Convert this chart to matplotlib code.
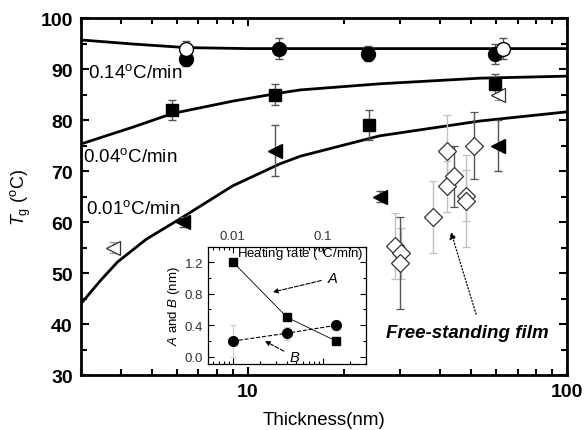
import matplotlib
matplotlib.use("Agg")
from matplotlib import pyplot as plt

plt.rcParams['font.family'] = ['Liberation Sans', 'DejaVu Sans']
plt.rcParams['mathtext.fontset'] = 'custom'
plt.rcParams['mathtext.rm'] = 'Liberation Sans'
plt.rcParams['mathtext.it'] = 'Liberation Sans:italic'
plt.rcParams['mathtext.bf'] = 'Liberation Sans:bold'

# ---- main panel data (thickness nm, Tg degC, error) ----
circ_h = [6.4, 12.5, 23.8, 59.4]
circ_tg = [92, 94, 93, 93]
circ_err = [1.5, 2, 1.5, 2]

open_circ_h = [6.4, 63]
open_circ_tg = [94, 94]
open_circ_err = [1.5, 2]

sq_h = [5.8, 12.2, 23.9, 59.4]
sq_tg = [82, 85, 79, 87]
sq_err = [2, 2, 3, 2]

tri_h = [6.25, 12.2, 25.9, 60.8]
tri_tg = [60, 74, 65, 75]
tri_err = [1, 5, 1, 5]

open_tri_h = [3.78, 60.8]
open_tri_tg = [55, 85]
open_tri_err = [1, 1]

# free-standing film, dark and light error bars
dia_dark_h = [44.3, 51, 30.0]
dia_dark_tg = [69, 75, 52]
dia_dark_err = [6, 6.5, 9]

dia_light_h = [42, 42, 48.2, 48.2, 38, 28.9, 30.2]
dia_light_tg = [74, 67, 65.1, 64.1, 61, 55.3, 53.9]
dia_light_err = [7, 5, 5, 9, 7, 6.5, 5]

# fitted curves
fit_014_h = [3.0, 4.36, 6.4, 10, 20, 50, 100]
fit_014_tg = [95.7, 94.9, 94.2, 94.0, 94.0, 94.0, 94.0]
fit_004_h = [3.0, 4.36, 5.82, 8.97, 12.6, 14.6, 25.9, 53.3, 100]
fit_004_tg = [75.3, 78.6, 81.3, 83.7, 85.3, 85.9, 87.1, 88.2, 88.6]
fit_001_h = [3.0, 3.45, 3.91, 4.8, 6.12, 8.97, 12.6, 14.6, 25.9, 53.3, 100]
fit_001_tg = [44.0, 48.5, 52.2, 56.6, 60.6, 67.1, 71.4, 72.9, 76.9, 79.8, 81.6]

# ---- inset data ----
rate = [0.01, 0.04, 0.14]
A_val = [1.2, 0.5, 0.2]
A_err = [0.03, 0.03, 0.03]
B_val = [0.2, 0.3, 0.4]
B_err = [0.2, 0.08, 0.06]

fig = plt.figure(figsize=(5.84, 4.31), dpi=100)
ax = fig.add_axes([0.1387, 0.1276, 0.8322, 0.8283])

ax.plot(fit_014_h, fit_014_tg, 'k-', lw=2)
ax.plot(fit_004_h, fit_004_tg, 'k-', lw=2)
ax.plot(fit_001_h, fit_001_tg, 'k-', lw=2)

ekw = dict(capsize=3, elinewidth=1, capthick=1, ls='none')
ax.errorbar(dia_light_h, dia_light_tg, yerr=dia_light_err, fmt='D', ms=9, mfc='white',
            mec='#333333', mew=0.9, ecolor='#c0c0c0', **ekw)
ax.errorbar(dia_dark_h, dia_dark_tg, yerr=dia_dark_err, fmt='D', ms=9, mfc='white',
            mec='#333333', mew=0.9, ecolor='#555555', **ekw)
ax.errorbar(circ_h, circ_tg, yerr=circ_err, fmt='o', ms=10, color='black', ecolor='#555555', **ekw)
ax.errorbar(sq_h, sq_tg, yerr=sq_err, fmt='s', ms=9, color='black', ecolor='#555555', **ekw)
ax.errorbar(tri_h, tri_tg, yerr=tri_err, fmt='<', ms=10, color='black', ecolor='#555555', **ekw)
ax.errorbar(open_tri_h, open_tri_tg, yerr=open_tri_err, fmt='<', ms=10, mfc='white',
            mec='#333333', mew=0.9, ecolor='#999999', **ekw)
ax.errorbar(open_circ_h, open_circ_tg, yerr=open_circ_err, fmt='o', ms=10, mfc='white',
            mec='black', mew=1, ecolor='#555555', **ekw)

ax.set_xscale('log')
ax.set_xlim(3, 100)
ax.set_ylim(30, 100)
ax.set_yticks(range(30, 101, 10))
ax.set_yticks(range(35, 100, 10), minor=True)
ax.set_xticks([10, 100])
ax.set_xticklabels(['10', '100'])
ax.tick_params(which='both', direction='in', top=True, right=True, width=1.5)
ax.tick_params(which='major', length=6, labelsize=14, pad=6)
ax.tick_params(which='minor', length=4, labelbottom=False)
for lab in ax.get_xticklabels() + ax.get_yticklabels():
    lab.set_fontweight('bold')
for s in ax.spines.values():
    s.set_linewidth(2)

ax.set_xlabel('Thickness(nm)', fontsize=13.5, labelpad=8)
ax.set_ylabel(r'$T_{\rm g}$ ($^{\rm o}$C)', fontsize=13, labelpad=5)

ax.text(3.15, 89.5, r'0.14$^{\rm o}$C/min', fontsize=13.5, va='center')
ax.text(3.05, 73.0, r'0.04$^{\rm o}$C/min', fontsize=13.5, va='center')
ax.text(3.1, 62.8, r'0.01$^{\rm o}$C/min', fontsize=13.5, va='center')

ax.text(27.1, 38.4, 'Free-standing film', fontsize=13.5, fontweight='bold', fontstyle='italic', va='center')
ax.annotate('', xy=(43, 58.6), xytext=(52.2, 41.4),
            arrowprops=dict(arrowstyle='-|>', ls=':', lw=0.9, color='black', mutation_scale=10))

# ---- inset ----
ins = fig.add_axes([0.3562, 0.1531, 0.2705, 0.2715])
ins.errorbar(rate, A_val, yerr=A_err, fmt='s-', ms=6, color='black', lw=0.6,
             ecolor='#cccccc', capsize=2, elinewidth=0.8)
ins.errorbar(rate, B_val, yerr=B_err, fmt='o--', ms=7, color='black', lw=0.8,
             ecolor='#cccccc', capsize=2, elinewidth=0.8)
ins.set_xscale('log')
ins.set_xlim(0.0053, 0.3)
ins.set_ylim(-0.09, 1.39)
ins.set_yticks([0.0, 0.4, 0.8, 1.2])
ins.set_yticks([0.2, 0.6, 1.0], minor=True)
ins.set_xticks([0.01, 0.1])
ins.set_xticklabels(['0.01', '0.1'])
ins.tick_params(which='both', direction='in', top=True, right=True, labelsize=9.5,
                labeltop=True, labelbottom=False, width=0.8, labelcolor='#333333')
ins.tick_params(which='major', length=4)
ins.tick_params(which='minor', length=2, labeltop=False)
for s in ins.spines.values():
    s.set_linewidth(0.9)
ins.set_ylabel(r'$A$ and $B$ (nm)', fontsize=9.5, labelpad=2)
ins.text(0.011, 1.31, r'Heating rate ($^{\rm o}$C/min)', fontsize=9.5, va='center')
ins.annotate('$A$', xy=(0.0278, 0.82), xytext=(0.11, 1.0), fontsize=10.5, va='center',
             arrowprops=dict(arrowstyle='-|>', ls='--', lw=0.8, color='black',
                             mutation_scale=7, shrinkB=0))
ins.annotate('$B$', xy=(0.0227, 0.2), xytext=(0.042, 0.0), fontsize=10.5, va='center',
             arrowprops=dict(arrowstyle='-|>', ls='--', lw=0.8, color='black',
                             mutation_scale=7, shrinkB=0))

fig.savefig('out.png', dpi=100)
